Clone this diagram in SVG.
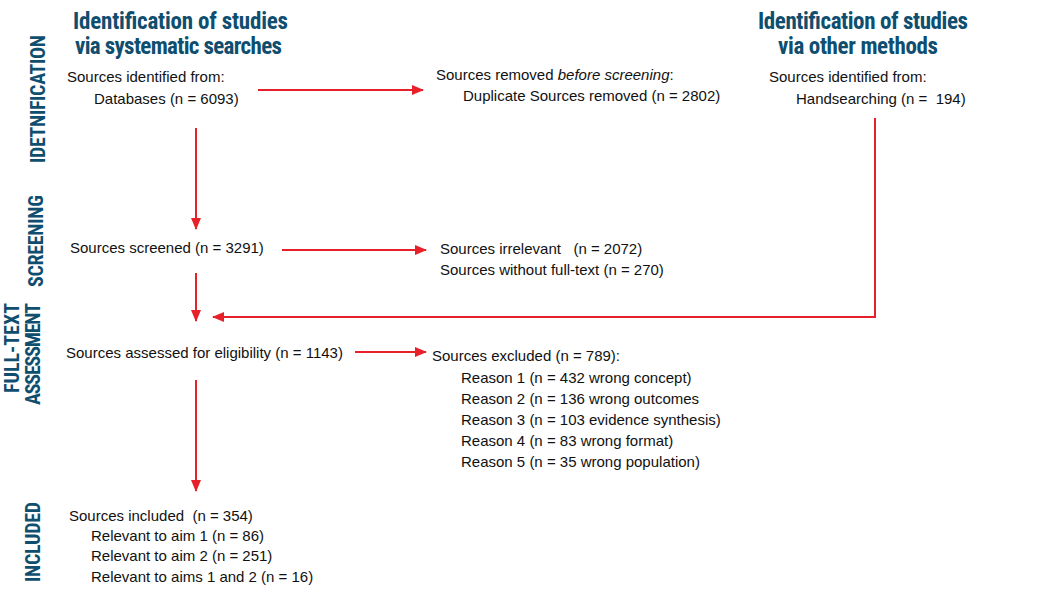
<svg xmlns="http://www.w3.org/2000/svg" width="1038" height="616" viewBox="0 0 1038 616">
<style>
text{font-family:"Liberation Sans",Arial,sans-serif;font-size:15px;fill:#111}
.h{font-family:"Liberation Sans Narrow","Roboto Condensed","Liberation Sans",sans-serif;font-weight:bold;font-size:23px;fill:#0f4e6e}
.v{font-family:"Liberation Sans Narrow","Roboto Condensed","Liberation Sans",sans-serif;font-weight:bold;font-size:20px;fill:#0f4e6e;text-anchor:middle}
.c{stroke:#e8202a;stroke-width:2;fill:none;marker-end:url(#a)}
</style>
<defs><marker id="a" markerWidth="12" markerHeight="10" refX="11" refY="5" orient="auto" markerUnits="userSpaceOnUse"><path d="M0,0L12,5L0,10Z" fill="#e8202a"/></marker></defs>
<g id="headers">
<text class="h" x="73" y="29" textLength="215">Identification of studies</text>
<text class="h" x="75" y="54" textLength="207">via systematic searches</text>
<text class="h" x="758" y="29" textLength="210">Identification of studies</text>
<text class="h" x="778" y="54" textLength="160">via other methods</text>
</g>
<g id="stages">
<text class="v" transform="translate(45,99) rotate(-90)" textLength="128">IDETNIFICATION</text>
<text class="v" transform="translate(43,241) rotate(-90)" textLength="92">SCREENING</text>
<text class="v" transform="translate(19,348) rotate(-90)" textLength="90">FULL-TEXT</text>
<text class="v" transform="translate(40,354) rotate(-90)" textLength="102">ASSESSMENT</text>
<text class="v" transform="translate(40,542) rotate(-90)" textLength="80">INCLUDED</text>
</g>
<g id="n-databases"><text x="67" y="82">Sources identified from:</text><text x="94" y="104">Databases (n = 6093)</text></g>
<g id="n-removed"><text x="436" y="80">Sources removed <tspan font-style="italic">before screening</tspan>:</text><text x="463" y="101">Duplicate Sources removed (n = 2802)</text></g>
<g id="n-hand"><text x="769" y="82">Sources identified from:</text><text x="796" y="104" xml:space="preserve">Handsearching (n =  194)</text></g>
<g id="n-screened"><text x="70" y="253">Sources screened (n = 3291)</text></g>
<g id="n-irrelevant"><text x="440" y="254" xml:space="preserve">Sources irrelevant   (n = 2072)</text><text x="440" y="275">Sources without full-text (n = 270)</text></g>
<g id="n-assessed"><text x="66" y="358">Sources assessed for eligibility (n = 1143)</text></g>
<g id="n-excluded"><text x="432" y="361">Sources excluded (n = 789):</text>
<text x="461" y="383">Reason 1 (n = 432 wrong concept)</text>
<text x="461" y="404">Reason 2 (n = 136 wrong outcomes</text>
<text x="461" y="425">Reason 3 (n = 103 evidence synthesis)</text>
<text x="461" y="446">Reason 4 (n = 83 wrong format)</text>
<text x="461" y="467">Reason 5 (n = 35 wrong population)</text></g>
<g id="n-included"><text x="69" y="521" xml:space="preserve">Sources included  (n = 354)</text>
<text x="91" y="541">Relevant to aim 1 (n = 86)</text>
<text x="91" y="561">Relevant to aim 2 (n = 251)</text>
<text x="91" y="582">Relevant to aims 1 and 2 (n = 16)</text></g>
<g id="connectors">
<path class="c" d="M258,90H423"/>
<path class="c" d="M196,128V229"/>
<path class="c" d="M282,250H426"/>
<path class="c" d="M196,273V321"/>
<path class="c" d="M875,118V317H213"/>
<path class="c" d="M355,352H426"/>
<path class="c" d="M196,380V491"/>
</g>
</svg>
